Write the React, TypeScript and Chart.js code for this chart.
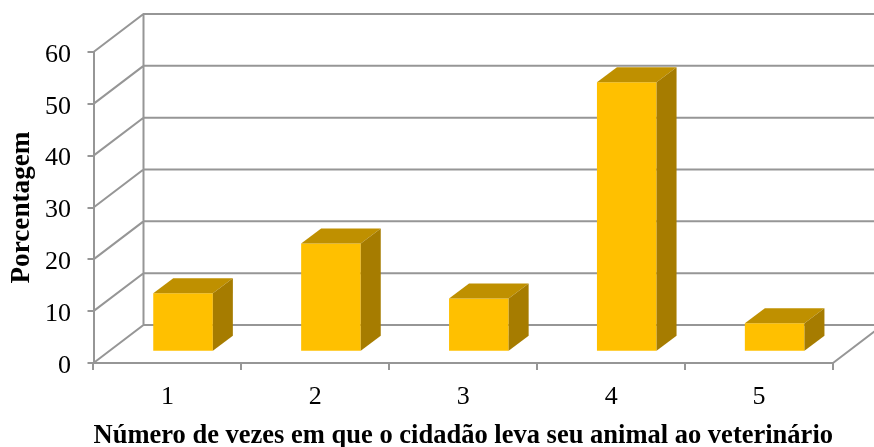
import { useEffect, useRef } from "react";
import Chart from "chart.js/auto";

const categories = ["1", "2", "3", "4", "5"];
const percentages = [11.3, 20.9, 10.3, 52, 5.5];
const yAxisTitle = "Porcentagem";
const xAxisTitle = "Número de vezes em que o cidadão leva seu animal ao veterinário";

const FRONT_COLOR = "#FFC000";
const TOP_COLOR = "#BF9000";
const SIDE_COLOR = "#A67C00";
const GRID_COLOR = "#969696";
const GRID_WIDTH = 2;
const FONT_FAMILY = "'Liberation Serif', 'Times New Roman', serif";

// Oblique projection of the box: how far the back wall sits from the front plane,
// where the bars stand on the floor, and how deep each bar is.
const WALL_DX = 50;
const WALL_DY = -38;
const BAR_SHIFT_X = 15.6;
const BAR_SHIFT_Y = -11.2;
const BAR_DEPTH_X = 20;
const BAR_DEPTH_Y = -15;

// Value labels on the vertical axis sit a little below their tick marks.
const Y_LABEL_RIGHT = 71;
const Y_LABEL_DROP = 3;

const boxPlugin = {
  id: "box3d",
  beforeDatasetsDraw(chart: any) {
    const { ctx, scales, width } = chart;
    const { x, y } = scales;
    ctx.save();
    ctx.strokeStyle = GRID_COLOR;
    ctx.lineWidth = GRID_WIDTH;
    ctx.beginPath();
    for (const tick of y.ticks) {
      const py = y.getPixelForValue(tick.value);
      ctx.moveTo(x.left, py);
      ctx.lineTo(x.left + WALL_DX, py + WALL_DY);
      ctx.lineTo(width, py + WALL_DY);
    }
    ctx.moveTo(x.left + WALL_DX, y.getPixelForValue(60) + WALL_DY);
    ctx.lineTo(x.left + WALL_DX, y.getPixelForValue(0) + WALL_DY);
    ctx.moveTo(x.right, y.bottom);
    ctx.lineTo(x.right + WALL_DX, y.bottom + WALL_DY);
    ctx.stroke();

    ctx.fillStyle = "#000";
    ctx.font = `26px ${FONT_FAMILY}`;
    ctx.textAlign = "right";
    ctx.textBaseline = "middle";
    for (const tick of y.ticks) {
      ctx.fillText(String(tick.value), Y_LABEL_RIGHT, y.getPixelForValue(tick.value) + Y_LABEL_DROP);
    }
    ctx.restore();
  },
  beforeDatasetDraw(chart: any) {
    chart.ctx.save();
    chart.ctx.translate(BAR_SHIFT_X, BAR_SHIFT_Y);
  },
  afterDatasetDraw(chart: any, args: any) {
    const { ctx } = chart;
    for (const bar of args.meta.data) {
      const left = bar.x - bar.width / 2;
      const right = bar.x + bar.width / 2;
      ctx.fillStyle = TOP_COLOR;
      ctx.beginPath();
      ctx.moveTo(left, bar.y);
      ctx.lineTo(left + BAR_DEPTH_X, bar.y + BAR_DEPTH_Y);
      ctx.lineTo(right + BAR_DEPTH_X, bar.y + BAR_DEPTH_Y);
      ctx.lineTo(right, bar.y);
      ctx.closePath();
      ctx.fill();
      ctx.fillStyle = SIDE_COLOR;
      ctx.beginPath();
      ctx.moveTo(right, bar.y);
      ctx.lineTo(right + BAR_DEPTH_X, bar.y + BAR_DEPTH_Y);
      ctx.lineTo(right + BAR_DEPTH_X, bar.base + BAR_DEPTH_Y);
      ctx.lineTo(right, bar.base);
      ctx.closePath();
      ctx.fill();
    }
    ctx.restore();
  },
};

export default function App() {
  const canvasRef = useRef<HTMLCanvasElement>(null);

  useEffect(() => {
    const chart = new Chart(canvasRef.current as HTMLCanvasElement, {
      type: "bar",
      data: {
        labels: categories,
        datasets: [
          {
            data: percentages,
            backgroundColor: FRONT_COLOR,
            barPercentage: 1,
            categoryPercentage: 0.403,
            clip: false,
          },
        ],
      },
      plugins: [boxPlugin],
      options: {
        responsive: false,
        animation: false,
        layout: { padding: { top: 52, right: 41, left: 0, bottom: 0 } },
        plugins: { legend: { display: false }, tooltip: { enabled: false } },
        scales: {
          x: {
            afterFit(scale: any) {
              scale.height = 84;
            },
            border: { color: GRID_COLOR, width: GRID_WIDTH },
            grid: { drawOnChartArea: false, color: GRID_COLOR, lineWidth: GRID_WIDTH, tickLength: 7 },
            ticks: {
              color: "#000",
              padding: 12,
              maxRotation: 0,
              font: { family: FONT_FAMILY, size: 26 },
            },
            title: {
              display: true,
              text: xAxisTitle,
              color: "#000",
              padding: { top: 4, bottom: -5 },
              font: { family: FONT_FAMILY, size: 26.9, weight: "bold" },
            },
          },
          y: {
            min: 0,
            max: 60,
            afterFit(scale: any) {
              scale.width = 93.5;
            },
            border: { color: GRID_COLOR, width: GRID_WIDTH },
            grid: { drawOnChartArea: false, color: GRID_COLOR, lineWidth: GRID_WIDTH, tickLength: 6 },
            ticks: {
              stepSize: 10,
              color: "rgba(0,0,0,0)",
              padding: 16,
              font: { family: FONT_FAMILY, size: 26 },
            },
            title: {
              display: true,
              text: yAxisTitle,
              color: "#000",
              padding: { top: 6, bottom: 0 },
              font: { family: FONT_FAMILY, size: 27.2, weight: "bold" },
            },
          },
        },
      },
    });
    return () => chart.destroy();
  }, []);

  return (
    <div style={{ position: "absolute", left: 0, top: 0, width: 874, height: 447, background: "#fff" }}>
      <canvas ref={canvasRef} width={874} height={447} style={{ display: "block" }} />
    </div>
  );
}
